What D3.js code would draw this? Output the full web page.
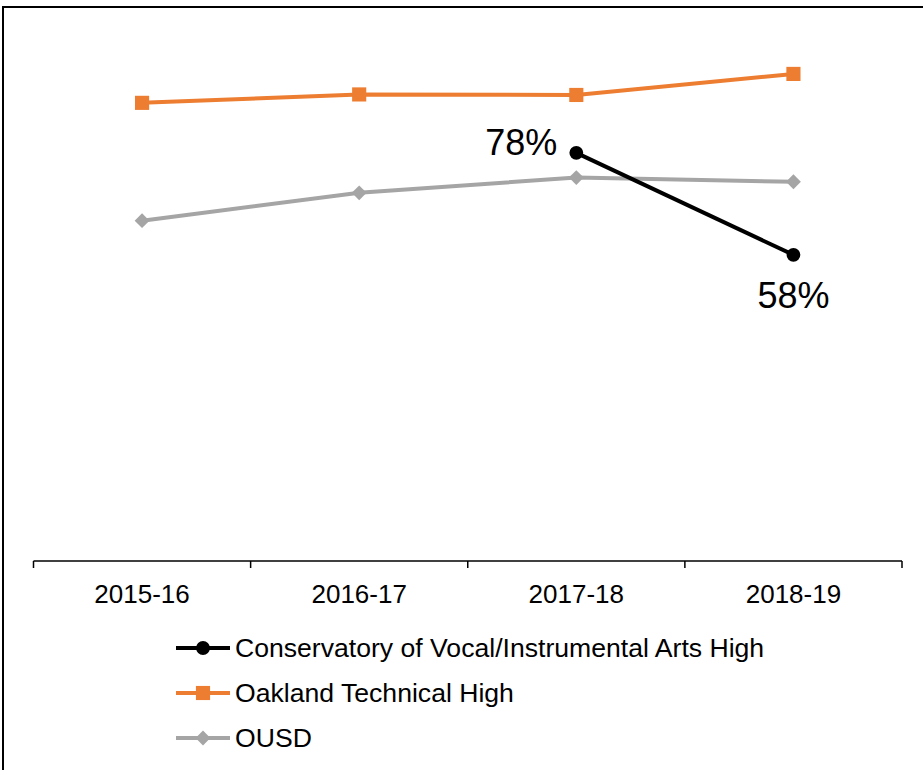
<!DOCTYPE html>
<html>
<head>
<meta charset="utf-8">
<script src="https://cdn.jsdelivr.net/npm/d3@7"></script>
<style>
  html, body { margin: 0; padding: 0; background: #fff; }
  svg { display: block; font-family: "Liberation Sans", Arial, sans-serif; }
</style>
</head>
<body>
<svg id="chart" width="923" height="770"></svg>
<script>
const categories = ["2015-16", "2016-17", "2017-18", "2018-19"];
const seriesNames = ["Conservatory of Vocal/Instrumental Arts High", "Oakland Technical High", "OUSD"];
const conservatory = [null, null, 0.776, 0.582];
const oaklandTech = [0.871, 0.887, 0.886, 0.926];
const ousd = [0.647, 0.700, 0.729, 0.721];
const seriesColors = ["#000000", "#ED7D31", "#A5A5A5"];
const seriesSymbols = ["circle", "square", "diamond"];

const svg = d3.select("#chart");

// chart border
svg.append("rect")
  .attr("x", 3).attr("y", 7).attr("width", 940).attr("height", 790)
  .attr("fill", "none").attr("stroke", "#000").attr("stroke-width", 2);

const x = d3.scaleBand().domain(categories).range([33.5, 902]).padding(0);
const y = d3.scaleLinear().domain([0, 1]).range([561, 35]);
const cx = c => x(c) + x.bandwidth() / 2;

// axis
const axisG = svg.append("g");
axisG.append("line")
  .attr("x1", x.range()[0]).attr("x2", x.range()[1])
  .attr("y1", y(0)).attr("y2", y(0))
  .attr("stroke", "#000").attr("stroke-width", 1.5);
const tickPos = categories.map(c => x(c)).concat([x.range()[1]]);
axisG.selectAll("line.tick").data(tickPos).join("line")
  .attr("class", "tick")
  .attr("x1", d => d).attr("x2", d => d)
  .attr("y1", y(0)).attr("y2", y(0) + 7)
  .attr("stroke", "#000").attr("stroke-width", 1.5);
axisG.selectAll("text").data(categories).join("text")
  .attr("x", d => cx(d)).attr("y", 603)
  .attr("text-anchor", "middle")
  .attr("font-size", 26)
  .attr("fill", "#000")
  .text(d => d);

const allSeries = [conservatory, oaklandTech, ousd];
const symbolTypes = { circle: d3.symbolCircle, square: d3.symbolSquare, diamond: d3.symbolSquare };
const symbolSizes = { circle: 150, square: 200, diamond: 110 };
const symbolRot = { circle: 0, square: 0, diamond: 45 };

const line = d3.line()
  .defined(d => d.v != null)
  .x(d => cx(d.c)).y(d => y(d.v));

// draw in order: OUSD, Oakland, Conservatory on top
[2, 1, 0].forEach(i => {
  const data = categories.map((c, j) => ({ c, v: allSeries[i][j] }));
  const sym = seriesSymbols[i];
  const g = svg.append("g");
  g.append("path")
    .datum(data)
    .attr("d", line)
    .attr("fill", "none")
    .attr("stroke", seriesColors[i])
    .attr("stroke-width", 4);
  g.selectAll("path.pt").data(data.filter(d => d.v != null)).join("path")
    .attr("class", "pt")
    .attr("transform", d => `translate(${cx(d.c)},${y(d.v)}) rotate(${symbolRot[sym]})`)
    .attr("d", d3.symbol().type(symbolTypes[sym]).size(symbolSizes[sym]))
    .attr("fill", seriesColors[i]);
});

// data labels for conservatory
const fmt = d3.format(".0%");
const consPts = categories.map((c, j) => ({ c, v: conservatory[j] })).filter(d => d.v != null);
svg.append("text")
  .attr("x", cx(consPts[0].c) - 19).attr("y", y(consPts[0].v) + 2)
  .attr("text-anchor", "end").attr("font-size", 36).attr("fill", "#000")
  .text(fmt(consPts[0].v));
svg.append("text")
  .attr("x", cx(consPts[1].c)).attr("y", y(consPts[1].v) + 53)
  .attr("text-anchor", "middle").attr("font-size", 36).attr("fill", "#000")
  .text(fmt(consPts[1].v));

// legend
const legendY = [648, 693, 738];
seriesNames.forEach((name, i) => {
  const sym = seriesSymbols[i];
  const g = svg.append("g").attr("transform", `translate(0,${legendY[i]})`);
  g.append("line").attr("x1", 176).attr("x2", 230).attr("y1", 0).attr("y2", 0)
    .attr("stroke", seriesColors[i]).attr("stroke-width", 4);
  g.append("path")
    .attr("transform", `translate(203,0) rotate(${symbolRot[sym]})`)
    .attr("d", d3.symbol().type(symbolTypes[sym]).size(symbolSizes[sym]))
    .attr("fill", seriesColors[i]);
  g.append("text").attr("x", 235).attr("y", 9)
    .attr("font-size", 26.6).attr("fill", "#000").text(name);
});
</script>
</body>
</html>
